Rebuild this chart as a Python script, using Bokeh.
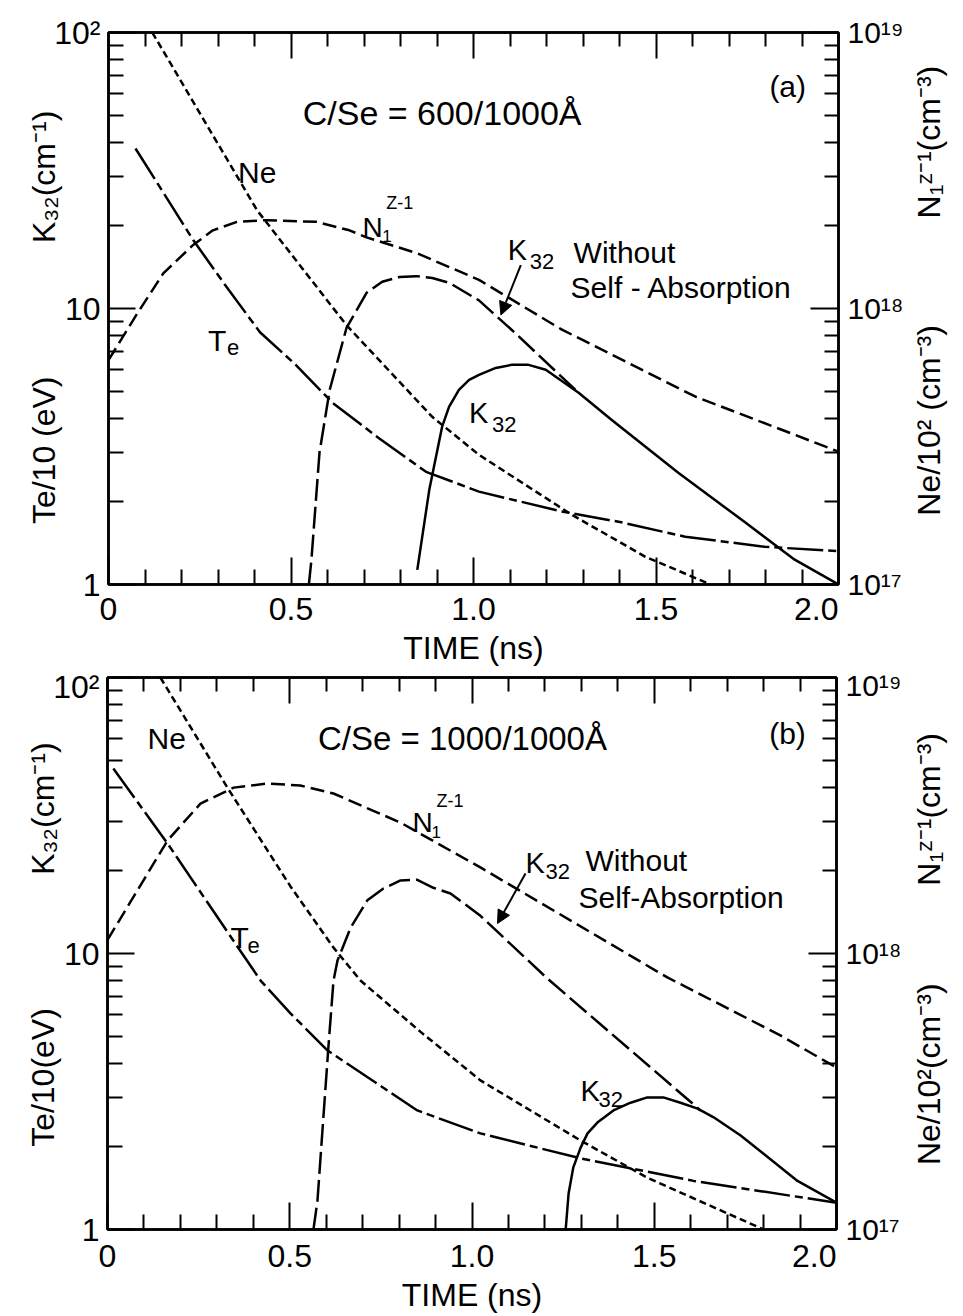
import math
from bokeh.plotting import figure
from bokeh.layouts import column, row
from bokeh.models import (Range1d, LogScale, LogAxis, LinearAxis, FixedTicker, Label,
                          Arrow, NormalHead, CustomJSTickFormatter)
from bokeh.embed import file_html
from bokeh.resources import INLINE

FONT = "Liberation Sans"
NB = "\u00a0"

# ---------------- data: panel (a)  C/Se = 600/1000 A ----------------
a_time_ne = [0.12, 0.407, 0.652, 0.887, 1.015, 1.269, 1.471, 1.65]
a_ne = [100, 22.7, 8.7, 4.05, 2.95, 1.79, 1.26, 1.0]

a_time_te = [0.074, 0.232, 0.319, 0.415, 0.513, 0.614, 0.742, 0.870, 1.015, 1.241, 1.405, 1.580, 1.798, 2.0]
a_te = [38.0, 17.7, 12.2, 8.2, 6.25, 4.55, 3.38, 2.56, 2.17, 1.84, 1.68, 1.49, 1.37, 1.32]

a_time_n1 = [0.0, 0.079, 0.150, 0.232, 0.286, 0.352, 0.434, 0.524, 0.570, 0.660, 0.707, 0.843, 1.015, 1.241, 1.607, 2.0]
a_n1 = [6.5, 9.6, 13.4, 17.0, 19.2, 20.6, 20.9, 20.7, 20.6, 19.2, 18.1, 15.9, 12.7, 8.4, 4.8, 3.03]

a_time_k32w = [0.549, 0.556, 0.578, 0.606, 0.652, 0.707, 0.750, 0.797, 0.843, 0.887, 0.933, 1.015, 1.105, 1.288]
a_k32w = [1.0, 1.23, 3.0, 5.07, 8.5, 11.4, 12.5, 13.0, 13.1, 12.9, 12.4, 10.7, 8.36, 4.95]

a_time_k32 = [0.846, 0.879, 0.914, 0.933, 0.960, 0.988, 1.015, 1.061, 1.105, 1.151, 1.198, 1.288, 1.378, 1.561, 1.744, 1.880, 2.0]
a_k32 = [1.13, 2.21, 3.73, 4.4, 5.07, 5.51, 5.75, 6.09, 6.25, 6.25, 6.0, 4.95, 3.95, 2.54, 1.68, 1.23, 1.0]

# ---------------- data: panel (b)  C/Se = 1000/1000 A ----------------
b_time_ne = [0.145, 0.329, 0.502, 0.620, 0.694, 0.859, 1.023, 1.298, 1.481, 1.80]
b_ne = [100, 39.9, 17.5, 10.5, 7.98, 5.2, 3.47, 2.10, 1.54, 1.0]

b_time_te = [0.016, 0.165, 0.346, 0.420, 0.502, 0.604, 0.850, 1.023, 1.298, 1.608, 2.0]
b_te = [46.8, 25.0, 11.1, 7.98, 6.07, 4.45, 2.70, 2.23, 1.81, 1.50, 1.25]

b_time_n1 = [0.0, 0.165, 0.255, 0.346, 0.439, 0.529, 0.620, 0.804, 1.023, 1.536, 1.846, 2.0]
b_n1 = [11.2, 25.7, 34.9, 39.9, 41.3, 40.6, 38.0, 29.8, 20.5, 8.19, 5.05, 3.86]

b_time_k32w = [0.565, 0.576, 0.593, 0.606, 0.620, 0.631, 0.667, 0.713, 0.757, 0.804, 0.850, 0.894, 0.941, 1.023, 1.207, 1.627]
b_k32w = [1.0, 1.27, 2.63, 4.57, 7.98, 9.43, 12.4, 15.6, 17.2, 18.4, 18.5, 17.3, 16.5, 13.7, 8.11, 2.70]

b_time_k32 = [1.257, 1.265, 1.278, 1.298, 1.317, 1.344, 1.388, 1.435, 1.481, 1.525, 1.572, 1.619, 1.663, 1.737, 1.800, 1.893, 2.0]
b_k32 = [1.0, 1.35, 1.68, 1.98, 2.23, 2.44, 2.70, 2.88, 3.01, 3.01, 2.88, 2.74, 2.55, 2.19, 1.88, 1.50, 1.25]

# ---------------- ticks and axis texts ----------------
x_ticks = [0, 0.5, 1.0, 1.5, 2.0]
x_tick_labels = ["0", "0.5", "1.0", "1.5", "2.0" + NB * 5]
x_minor = [0.1, 0.2, 0.3, 0.4, 0.6, 0.7, 0.8, 0.9, 1.1, 1.2, 1.3, 1.4, 1.6, 1.7, 1.8, 1.9]
left_ticks = [1, 10, 100]
left_tick_labels = ["1", "10", "10²"]
left_minor = [m * d for d in (1, 10) for m in range(2, 10)]
right_ticks = [1e17, 1e18, 1e19]
right_tick_labels = ["10¹⁷", "10¹⁸", "10¹⁹"]
right_minor = [m * d for d in (1e17, 1e18) for m in range(2, 10)]

x_title = "TIME (ns)"
left_title_a = "Te/10 (eV)" + NB * 15 + "K₃₂(cm⁻¹)" + NB * 2
left_title_b = NB * 2 + "Te/10(eV)" + NB * 15 + "K₃₂(cm⁻¹)"
right_title_a = NB * 4 + "Ne/10² (cm⁻³)" + NB * 12 + "N₁ᶻ⁻¹(cm⁻³)"
right_title_b = NB * 1 + "Ne/10²(cm⁻³)" + NB * 11 + "N₁ᶻ⁻¹(cm⁻³)"

MAIN_W = 906
SIDE_W = 54


def make_conv(x0, x2, ytop, ybot):
    def conv(px, py):
        x = (px - x0) / (x2 - x0) * 2.0
        y = 10 ** ((ybot - py) / (ybot - ytop) * 2.0)
        return x, y
    return conv


def style_axis(ax, major_in, minor_in):
    ax.axis_line_width = 2.5
    ax.axis_line_color = "black"
    ax.major_tick_line_width = 2
    ax.minor_tick_line_width = 2
    ax.major_tick_line_color = "black"
    ax.minor_tick_line_color = "black"
    ax.major_tick_in = major_in
    ax.major_tick_out = 0
    ax.minor_tick_in = minor_in
    ax.minor_tick_out = 0
    ax.major_label_text_font = FONT
    ax.major_label_text_font_size = "32px"
    ax.major_label_text_color = "black"
    ax.axis_label_text_font = FONT
    ax.axis_label_text_font_style = "normal"
    ax.axis_label_text_font_size = "32px"
    ax.axis_label_text_color = "black"


def make_panel(height, mb, conv, series, texts, arrow, left_title, bottom_std):
    p = figure(width=MAIN_W, height=height, x_range=Range1d(0, 2), y_range=Range1d(1, 100),
               y_axis_type="log", output_backend="svg", toolbar_location=None, title=None,
               min_border_left=mb[0], min_border_right=mb[1], min_border_top=mb[2],
               min_border_bottom=mb[3], background_fill_color="white", border_fill_color="white")
    p.xgrid.visible = False
    p.ygrid.visible = False
    p.outline_line_color = "black"
    p.outline_line_width = 2.5

    bottom = p.below[0]
    bottom.ticker = FixedTicker(ticks=x_ticks, minor_ticks=x_minor)
    bottom.major_label_overrides = dict(zip(x_ticks, x_tick_labels))
    style_axis(bottom, 27, 15)
    bottom.major_label_standoff = bottom_std
    bottom.axis_label = x_title
    bottom.axis_label_standoff = 0

    left = p.left[0]
    left.ticker = FixedTicker(ticks=left_ticks, minor_ticks=left_minor)
    left.major_label_overrides = dict(zip(left_ticks, left_tick_labels))
    style_axis(left, 27, 15)
    left.major_label_standoff = 8
    left.axis_label = left_title
    left.axis_label_standoff = -11

    top = LinearAxis(ticker=FixedTicker(ticks=x_ticks, minor_ticks=x_minor),
                     formatter=CustomJSTickFormatter(code="return ''"))
    style_axis(top, 26, 14)
    top.major_label_text_font_size = "1px"
    top.major_label_standoff = 0
    p.add_layout(top, "above")

    p.extra_y_ranges = {"right": Range1d(1e17, 1e19)}
    p.extra_y_scales = {"right": LogScale()}
    right = LogAxis(y_range_name="right", ticker=FixedTicker(ticks=right_ticks, minor_ticks=right_minor))
    right.major_label_overrides = dict(zip(right_ticks, right_tick_labels))
    style_axis(right, 28, 14)
    right.major_label_text_font_size = "30px"
    right.major_label_standoff = 9
    p.add_layout(right, "right")

    for xs, ys, dash in series:
        p.line(xs, ys, line_color="black", line_width=2.5, line_dash=dash, line_join="round")

    for px, py, txt, size, align in texts:
        x, y = conv(px, py)
        p.add_layout(Label(x=x, y=y, text=txt, text_font=FONT, text_font_size=f"{size}px",
                           text_align=align, text_baseline="alphabetic", text_color="black"))
    xs0, ys0 = conv(arrow[0], arrow[1])
    xs1, ys1 = conv(arrow[2], arrow[3])
    p.add_layout(Arrow(end=NormalHead(size=13, fill_color="black", line_color="black"),
                       x_start=xs0, y_start=ys0, x_end=xs1, y_end=ys1,
                       line_width=2, line_color="black"))
    return p


def make_side(height, top, bottom, title):
    # narrow companion figure carrying the right-hand axis title (reads bottom-to-top)
    s = figure(width=SIDE_W, height=height, x_range=Range1d(0, 1), y_range=Range1d(0, 1),
               x_axis_type=None, y_axis_type=None, output_backend="svg", toolbar_location=None,
               title=None, min_border_left=46, min_border_right=0, min_border_top=top,
               min_border_bottom=bottom, background_fill_color="white", border_fill_color="white")
    s.outline_line_color = None
    s.xgrid.visible = False
    s.ygrid.visible = False
    ax = LinearAxis(ticker=FixedTicker(ticks=[]))
    style_axis(ax, 0, 0)
    ax.axis_line_color = None
    ax.major_tick_line_color = None
    ax.minor_tick_line_color = None
    ax.axis_label = title
    ax.axis_label_standoff = 6
    s.add_layout(ax, "left")
    return s


DASH_NE = "7 4"
DASH_N1 = "14 6"
DASH_K32W = "22 6"
DASH_TE = "36 5 8 5"

# ---------------- panel (a) ----------------
conv_a = make_conv(108, 841, 32, 585)
series_a = [
    (a_time_ne, a_ne, DASH_NE),
    (a_time_te, a_te, DASH_TE),
    (a_time_n1, a_n1, DASH_N1),
    (a_time_k32w, a_k32w, DASH_K32W),
    (a_time_k32, a_k32, "solid"),
]
texts_a = [
    (443, 113, "C/Se = 600/1000Å", 34, "center"),
    (790, 86, "(a)", 30, "center"),
    (238, 172, "Ne", 30, "left"),
    (363, 227, "N", 28, "left"), (383, 236, "1", 17, "left"), (387, 203, "Z-1", 18, "left"),
    (509, 250, "K", 29, "left"), (531, 261, "32", 22, "left"), (575, 252, "Without", 30, "left"),
    (572, 287, "Self - Absorption", 30, "left"),
    (208, 341, "T", 30, "left"), (227, 348, "e", 22, "left"),
    (470, 413, "K", 29, "left"), (493, 425, "32", 22, "left"),
]
p_a = make_panel(668, (108, MAIN_W - 841, 32, 83), conv_a, series_a, texts_a, (522, 265, 502, 315),
                 left_title_a, 6)
s_a = make_side(668, 32, 83, right_title_a)

# ---------------- panel (b) ----------------
conv_b = make_conv(107, 836, 677, 1229)
series_b = [
    (b_time_ne, b_ne, DASH_NE),
    (b_time_te, b_te, DASH_TE),
    (b_time_n1, b_n1, DASH_N1),
    (b_time_k32w, b_k32w, DASH_K32W),
    (b_time_k32, b_k32, "solid"),
]
texts_b = [
    (462, 738, "C/Se = 1000/1000Å", 33, "center"),
    (787, 733, "(b)", 30, "center"),
    (147, 738, "Ne", 30, "left"),
    (412, 822, "N", 28, "left"), (431, 831, "1", 17, "left"), (436, 800, "Z-1", 18, "left"),
    (525, 862, "K", 29, "left"), (545, 871, "32", 22, "left"), (585, 860, "Without", 30, "left"),
    (578, 897, "Self-Absorption", 30, "left"),
    (230, 937, "T", 30, "left"), (247, 945, "e", 22, "left"),
    (580, 1090, "K", 29, "left"), (598, 1099, "32", 22, "left"),
]
p_b = make_panel(648, (107, MAIN_W - 836, 9, 87), conv_b, series_b, texts_b, (525, 873, 497, 923),
                 left_title_b, 8)
s_b = make_side(648, 9, 87, right_title_b)

layout = column(row(p_a, s_a, spacing=0), row(p_b, s_b, spacing=0), spacing=0)
open("out.html", "w").write(file_html(layout, INLINE))
